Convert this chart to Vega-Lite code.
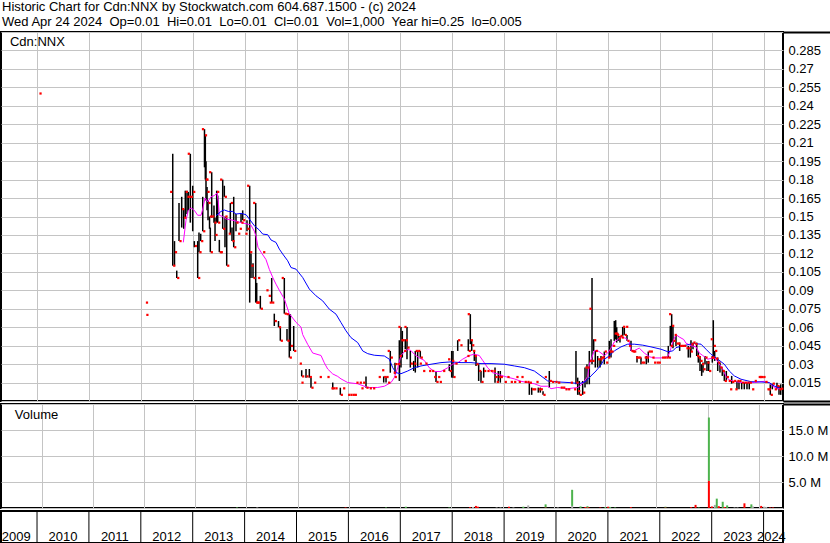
{
"$schema": "https://vega.github.io/schema/vega-lite/v6.json",
"padding": 0,
"background": "white",
"config": {
  "font": "Liberation Sans",
  "view": {"stroke": "black", "strokeWidth": 2, "fill": "white"},
  "axis": {"labelFont": "Liberation Sans", "labelFontSize": 13, "labelColor": "black", "gridColor": "#c4c4c4", "gridWidth": 1, "gridOpacity": 1, "labelOverlap": false}
},
"title": {"text": ["Historic Chart for Cdn:NNX by Stockwatch.com 604.687.1500 - (c) 2024", "Wed Apr 24 2024\u00a0 Op=0.01\u00a0 Hi=0.01\u00a0 Lo=0.01\u00a0 Cl=0.01\u00a0 Vol=1,000\u00a0 Year hi=0.25\u00a0 lo=0.005"], "anchor": "start", "frame": "bounds", "font": "Liberation Sans", "fontSize": 13, "fontWeight": "normal", "color": "black", "lineHeight": 15.5, "baseline": "top", "offset": -4, "dx": 2},
"spacing": 3,
"bounds": "flush",
"resolve": {"scale": {"color": "independent", "x": "independent", "y": "independent"}},
"vconcat": [
  {
    "width": 782, "height": 369,
    "encoding": {
      "x": {"field": "t", "type": "quantitative", "scale": {"domain": [2009.306, 2024.374], "nice": false, "zero": false},
            "axis": {"values": [2010,2011,2012,2013,2014,2015,2016,2017,2018,2019,2020,2021,2022,2023,2024], "tickCount": 40, "grid": true, "labels": false, "ticks": false, "domain": false, "title": null, "minExtent": 0, "maxExtent": 0}}
    },
    "layer": [
      {"data": {"name": "bars"}, "mark": {"type": "rule", "color": "black", "strokeWidth": 1.5},
       "encoding": {
         "y": {"field": "l", "type": "quantitative", "scale": {"domain": [0, 0.3], "nice": false, "zero": false},
               "axis": {"orient": "right", "values": [0,0.015,0.03,0.045,0.06,0.075,0.09,0.105,0.12,0.135,0.15,0.165,0.18,0.195,0.21,0.225,0.24,0.255,0.27,0.285,0.3], "tickCount": 40, "grid": true, "gridColor": "#c4c4c4", "gridOpacity": 1, "labelOverlap": false, "labelSeparation": 0, "domain": false, "tickSize": 48, "tickWidth": 2, "tickColor": "black",
                        "tickOpacity": {"condition": {"test": "datum.value < 0.001 || datum.value > 0.299", "value": 1}, "value": 0},
                        "labelExpr": "datum.value < 0.001 || datum.value > 0.299 ? '' : format(datum.value, '~g')",
                        "labelPadding": -43, "title": null}},
         "y2": {"field": "h"}
       }},
      {"data": {"name": "ma"}, "mark": {"type": "line", "strokeWidth": 1},
       "encoding": {
         "y": {"field": "p", "type": "quantitative"},
         "color": {"field": "s", "type": "nominal", "scale": {"domain": ["short", "long"], "range": ["#ff00ff", "#0000ff"]}, "legend": null}
       }},
      {"data": {"name": "bars"}, "mark": {"type": "point", "shape": "square", "filled": true, "size": 5, "color": "#ff0000", "opacity": 1, "xOffset": -1.5},
       "encoding": {"y": {"field": "o", "type": "quantitative"}}},
      {"data": {"name": "bars"}, "mark": {"type": "point", "shape": "square", "filled": true, "size": 5, "color": "#ff0000", "opacity": 1, "xOffset": 1.5},
       "encoding": {"y": {"field": "c", "type": "quantitative"}}},
      {"data": {"values": [{"label": "Cdn:NNX", "t": 2009.479, "p": 0.2886}]}, "mark": {"type": "text", "align": "left", "baseline": "alphabetic", "fontSize": 13, "font": "Liberation Sans", "color": "black"},
       "encoding": {"y": {"field": "p", "type": "quantitative"}, "text": {"field": "label", "type": "nominal"}}}
    ]
  },
  {
    "width": 782, "height": 104,
    "encoding": {
      "x": {"field": "t", "type": "quantitative", "scale": {"domain": [2009.306, 2024.374], "nice": false, "zero": false},
            "axis": {"values": [2010,2011,2012,2013,2014,2015,2016,2017,2018,2019,2020,2021,2022,2023,2024], "tickCount": 40, "grid": true, "labels": false, "ticks": false, "domain": false, "title": null, "minExtent": 0, "maxExtent": 0}}
    },
    "layer": [
      {"data": {"name": "vol"},
       "mark": {"type": "bar", "size": 2},
       "encoding": {
         "y": {"field": "v", "type": "quantitative", "stack": "zero", "scale": {"domain": [0, 20000000], "nice": false},
               "axis": {"orient": "right", "values": [0, 5000000, 10000000, 15000000, 20000000], "tickCount": 20, "grid": true, "gridColor": "#c4c4c4", "gridOpacity": 1, "labelOverlap": false, "labelSeparation": 0, "domain": false, "tickSize": 48, "tickWidth": 2, "tickColor": "black",
                        "tickOpacity": {"condition": {"test": "datum.value > 19000000", "value": 1}, "value": 0},
                        "labelPadding": -43, "labelExpr": "datum.value < 1 || datum.value > 19000000 ? '' : format(datum.value / 1000000, '.1f') + ' M'", "title": null}},
         "color": {"field": "k", "type": "nominal", "scale": {"domain": ["down", "up", "flat"], "range": ["#ff0000", "#4db34d", "#a8a8a8"]}, "legend": null},
         "order": {"field": "n", "type": "quantitative"}
       }},
      {"data": {"values": [{"label": "Volume", "t": 2009.479, "v": 17100000}]}, "mark": {"type": "text", "align": "left", "baseline": "alphabetic", "fontSize": 13, "font": "Liberation Sans", "color": "black"},
       "encoding": {"y": {"field": "v", "type": "quantitative"}, "text": {"field": "label", "type": "nominal"}}}
    ]
  },
  {
    "width": 782, "height": 32,
    "layer": [
      {"data": {"name": "yearlines"}, "mark": {"type": "rule", "color": "black", "strokeWidth": 1},
       "encoding": {"x": {"field": "y0", "type": "quantitative", "scale": {"domain": [2009.306, 2024.374], "nice": false, "zero": false}, "axis": null}}},
      {"data": {"name": "yearlabels"}, "mark": {"type": "text", "fontSize": 13, "font": "Liberation Sans", "color": "black", "baseline": "alphabetic", "align": "center"},
       "encoding": {
         "x": {"field": "m", "type": "quantitative", "axis": null},
         "y": {"field": "ty", "type": "quantitative", "scale": {"domain": [0, 1]}, "axis": null},
         "text": {"field": "year", "type": "nominal"}
       }}
    ]
  }
],
"datasets": {
"bars": [
{"t":2010.039,"c":0.25},
{"t":2012.090,"c":0.08},
{"t":2012.098,"c":0.07},
{"t":2012.615,"h":0.201,"l":0.110,"o":0.170,"c":0.110},
{"t":2012.649,"h":0.130,"l":0.110,"c":0.121},
{"t":2012.692,"h":0.106,"l":0.100,"c":0.100},
{"t":2012.736,"h":0.161,"l":0.130,"c":0.130},
{"t":2012.788,"h":0.166,"l":0.141,"c":0.156},
{"t":2012.827,"h":0.156,"l":0.140,"c":0.149},
{"t":2012.857,"h":0.171,"l":0.149,"c":0.170},
{"t":2012.890,"h":0.171,"l":0.152,"c":0.166},
{"t":2012.915,"h":0.170,"l":0.155,"c":0.166},
{"t":2012.954,"h":0.201,"l":0.145,"o":0.201,"c":0.166},
{"t":2013.000,"h":0.175,"l":0.138,"c":0.170},
{"t":2013.031,"h":0.130,"l":0.125,"c":0.126},
{"t":2013.096,"h":0.130,"l":0.100,"c":0.100},
{"t":2013.121,"h":0.137,"l":0.121,"c":0.121},
{"t":2013.154,"h":0.136,"l":0.130,"c":0.130},
{"t":2013.193,"h":0.166,"l":0.138,"c":0.138},
{"t":2013.227,"h":0.221,"l":0.190,"o":0.221,"c":0.216},
{"t":2013.243,"h":0.216,"l":0.180,"c":0.180},
{"t":2013.256,"h":0.195,"l":0.163,"c":0.180},
{"t":2013.276,"h":0.174,"l":0.155,"c":0.170},
{"t":2013.295,"h":0.163,"l":0.147,"c":0.161},
{"t":2013.324,"h":0.150,"l":0.140,"c":0.150},
{"t":2013.339,"h":0.141,"l":0.121,"c":0.121},
{"t":2013.366,"h":0.186,"l":0.149,"o":0.186,"c":0.150},
{"t":2013.410,"h":0.159,"l":0.145,"c":0.145},
{"t":2013.430,"h":0.149,"l":0.130,"c":0.135},
{"t":2013.462,"h":0.171,"l":0.145,"c":0.170},
{"t":2013.482,"h":0.167,"l":0.145,"c":0.145},
{"t":2013.513,"h":0.131,"l":0.121,"c":0.121},
{"t":2013.532,"c":0.121},
{"t":2013.578,"h":0.180,"l":0.140,"o":0.180,"c":0.140},
{"t":2013.609,"h":0.175,"l":0.166,"c":0.166},
{"t":2013.622,"h":0.150,"l":0.125,"c":0.150},
{"t":2013.655,"h":0.149,"l":0.110,"c":0.110},
{"t":2013.686,"c":0.136},
{"t":2013.725,"h":0.161,"l":0.136,"c":0.161},
{"t":2013.757,"h":0.141,"l":0.130,"c":0.130},
{"t":2013.790,"h":0.166,"l":0.125,"c":0.125},
{"t":2013.834,"h":0.152,"l":0.138,"c":0.145},
{"t":2013.867,"c":0.136},
{"t":2013.898,"c":0.140},
{"t":2013.931,"h":0.152,"l":0.145,"c":0.145},
{"t":2013.963,"h":0.155,"l":0.147,"c":0.147},
{"t":2014.008,"c":0.136},
{"t":2014.046,"h":0.147,"l":0.138,"c":0.140},
{"t":2014.098,"h":0.175,"l":0.080,"o":0.175,"c":0.121},
{"t":2014.123,"h":0.120,"l":0.100,"c":0.110},
{"t":2014.162,"h":0.112,"l":0.100,"c":0.100},
{"t":2014.214,"h":0.161,"l":0.080,"o":0.161,"c":0.080},
{"t":2014.233,"h":0.096,"l":0.080,"c":0.080},
{"t":2014.252,"c":0.100},
{"t":2014.303,"h":0.0855,"l":0.075,"o":0.080,"c":0.075},
{"t":2014.349,"c":0.121},
{"t":2014.412,"c":0.090},
{"t":2014.457,"c":0.0855},
{"t":2014.476,"c":0.080},
{"t":2014.522,"h":0.100,"l":0.080,"c":0.080},
{"t":2014.572,"h":0.071,"l":0.061,"c":0.065},
{"t":2014.653,"h":0.065,"l":0.060,"c":0.060},
{"t":2014.688,"h":0.060,"l":0.049,"c":0.049},
{"t":2014.765,"h":0.100,"l":0.071,"o":0.100,"c":0.071},
{"t":2014.817,"h":0.0586,"l":0.049,"c":0.049},
{"t":2014.861,"h":0.0706,"l":0.0353,"o":0.0706,"c":0.0353},
{"t":2014.881,"h":0.0706,"l":0.0407,"c":0.0448},
{"t":2014.946,"h":0.061,"l":0.0407,"c":0.0407},
{"t":2015.054,"c":0.0304},
{"t":2015.087,"c":0.0149},
{"t":2015.100,"h":0.025,"l":0.020,"c":0.020},
{"t":2015.183,"h":0.026,"l":0.019,"c":0.020},
{"t":2015.247,"h":0.026,"l":0.019,"c":0.0195},
{"t":2015.279,"h":0.019,"l":0.0108,"c":0.0108},
{"t":2015.331,"c":0.0149},
{"t":2015.439,"c":0.0195},
{"t":2015.588,"c":0.0195},
{"t":2015.665,"c":0.0103},
{"t":2015.698,"h":0.015,"l":0.0095,"c":0.0103},
{"t":2015.742,"c":0.0103},
{"t":2015.844,"h":0.0108,"l":0.005,"c":0.005},
{"t":2015.890,"c":0.0103},
{"t":2015.987,"c":0.005},
{"t":2016.031,"c":0.005},
{"t":2016.075,"c":0.005},
{"t":2016.114,"c":0.005},
{"t":2016.146,"c":0.0149},
{"t":2016.210,"c":0.0149},
{"t":2016.243,"c":0.0103},
{"t":2016.276,"c":0.0149},
{"t":2016.339,"h":0.020,"l":0.0108,"c":0.0108},
{"t":2016.403,"c":0.0103},
{"t":2016.468,"c":0.0103},
{"t":2016.576,"c":0.0195},
{"t":2016.642,"c":0.025},
{"t":2016.680,"h":0.020,"l":0.015,"c":0.0195},
{"t":2016.725,"h":0.020,"l":0.015,"c":0.0195},
{"t":2016.757,"c":0.0149},
{"t":2016.807,"h":0.0407,"l":0.023,"o":0.0407,"c":0.0353},
{"t":2016.865,"c":0.023},
{"t":2016.884,"c":0.0195},
{"t":2016.898,"h":0.031,"l":0.0217,"c":0.030},
{"t":2016.950,"c":0.030},
{"t":2016.981,"h":0.0494,"l":0.0163,"c":0.0366},
{"t":2017.013,"h":0.0602,"l":0.0272,"o":0.0602,"c":0.0494},
{"t":2017.039,"h":0.057,"l":0.0353,"c":0.0494},
{"t":2017.066,"c":0.0407},
{"t":2017.096,"h":0.0502,"l":0.0421,"c":0.0494},
{"t":2017.129,"h":0.0602,"l":0.0339,"o":0.0602,"c":0.0434},
{"t":2017.193,"h":0.0407,"l":0.0272,"c":0.0304},
{"t":2017.258,"h":0.0326,"l":0.0244,"c":0.0304},
{"t":2017.289,"h":0.0407,"l":0.0231,"c":0.0407},
{"t":2017.335,"h":0.0407,"l":0.0272,"c":0.0407},
{"t":2017.366,"c":0.0304},
{"t":2017.385,"h":0.0407,"l":0.0353,"c":0.0353},
{"t":2017.432,"c":0.0244},
{"t":2017.476,"c":0.0304},
{"t":2017.547,"c":0.0244},
{"t":2017.605,"c":0.0244},
{"t":2017.644,"c":0.0195},
{"t":2017.688,"h":0.0244,"l":0.0155,"c":0.0155},
{"t":2017.721,"c":0.0195},
{"t":2017.752,"c":0.0155},
{"t":2017.817,"c":0.0244},
{"t":2017.913,"c":0.0339},
{"t":2017.944,"h":0.0299,"l":0.0244,"c":0.0244},
{"t":2017.990,"h":0.0407,"l":0.019,"c":0.0326},
{"t":2018.015,"h":0.0407,"l":0.019,"c":0.0195},
{"t":2018.054,"c":0.0304},
{"t":2018.106,"h":0.0494,"l":0.0407,"c":0.0494},
{"t":2018.150,"c":0.0453},
{"t":2018.233,"c":0.0326},
{"t":2018.285,"c":0.0366},
{"t":2018.310,"h":0.0502,"l":0.0407,"c":0.0407},
{"t":2018.349,"h":0.0706,"l":0.0462,"o":0.0706,"c":0.0494},
{"t":2018.376,"h":0.0494,"l":0.0407,"c":0.0453},
{"t":2018.395,"c":0.0407},
{"t":2018.426,"h":0.0407,"l":0.0326,"c":0.0366},
{"t":2018.459,"h":0.0366,"l":0.0285,"c":0.0299},
{"t":2018.510,"h":0.0299,"l":0.0163,"c":0.0244},
{"t":2018.555,"h":0.0244,"l":0.0149,"c":0.0155},
{"t":2018.607,"h":0.0272,"l":0.019,"c":0.0244},
{"t":2018.671,"c":0.0244},
{"t":2018.734,"c":0.0244},
{"t":2018.786,"c":0.0244},
{"t":2018.825,"h":0.0272,"l":0.0149,"c":0.0195},
{"t":2018.850,"c":0.0155},
{"t":2018.888,"h":0.0244,"l":0.0149,"c":0.0195},
{"t":2018.927,"h":0.0244,"l":0.0149,"c":0.0195},
{"t":2019.004,"c":0.0155},
{"t":2019.056,"c":0.0195},
{"t":2019.120,"c":0.0155},
{"t":2019.185,"c":0.0155},
{"t":2019.229,"c":0.0195},
{"t":2019.274,"c":0.0155},
{"t":2019.326,"c":0.0195},
{"t":2019.389,"c":0.0155},
{"t":2019.441,"c":0.0155},
{"t":2019.486,"h":0.0149,"l":0.005,"c":0.0149},
{"t":2019.532,"h":0.0109,"l":0.005,"c":0.0095},
{"t":2019.570,"c":0.0095},
{"t":2019.615,"c":0.0155},
{"t":2019.659,"h":0.0109,"l":0.0068,"c":0.0095},
{"t":2019.698,"h":0.0109,"l":0.0068,"c":0.0095},
{"t":2019.750,"h":0.008,"l":0.005,"c":0.005},
{"t":2019.775,"c":0.0195},
{"t":2019.871,"h":0.0244,"l":0.0109,"c":0.0163},
{"t":2019.917,"c":0.0155},
{"t":2019.981,"c":0.0155},
{"t":2020.033,"c":0.0149},
{"t":2020.083,"c":0.0109},
{"t":2020.129,"c":0.0109},
{"t":2020.174,"c":0.0095},
{"t":2020.225,"c":0.0095},
{"t":2020.276,"c":0.0149},
{"t":2020.341,"c":0.0095},
{"t":2020.385,"h":0.0407,"l":0.0136,"c":0.0149},
{"t":2020.418,"h":0.019,"l":0.005,"c":0.0081},
{"t":2020.449,"h":0.0163,"l":0.005,"c":0.005},
{"t":2020.514,"h":0.0163,"l":0.005,"c":0.0068},
{"t":2020.559,"h":0.0272,"l":0.0109,"c":0.0272},
{"t":2020.597,"h":0.0299,"l":0.0136,"c":0.0272},
{"t":2020.642,"h":0.0407,"l":0.0136,"c":0.0326},
{"t":2020.694,"h":0.100,"l":0.0299,"o":0.075,"c":0.0326},
{"t":2020.726,"h":0.0502,"l":0.0407,"c":0.0494},
{"t":2020.757,"h":0.0407,"l":0.0272,"c":0.0407},
{"t":2020.803,"h":0.0366,"l":0.0272,"c":0.0339},
{"t":2020.848,"h":0.0339,"l":0.0272,"c":0.0339},
{"t":2020.867,"h":0.0366,"l":0.0299,"c":0.0353},
{"t":2020.892,"c":0.0353},
{"t":2020.931,"h":0.0402,"l":0.0299,"c":0.0402},
{"t":2020.958,"c":0.0312},
{"t":2020.996,"c":0.0353},
{"t":2021.027,"h":0.0489,"l":0.0353,"c":0.0402},
{"t":2021.060,"h":0.0502,"l":0.0353,"c":0.0402},
{"t":2021.092,"c":0.0448},
{"t":2021.123,"h":0.0651,"l":0.0489,"c":0.0548},
{"t":2021.150,"h":0.0657,"l":0.050,"c":0.0548},
{"t":2021.170,"h":0.060,"l":0.0475,"c":0.0537},
{"t":2021.200,"h":0.0548,"l":0.0489,"c":0.0510},
{"t":2021.233,"h":0.0529,"l":0.0475,"c":0.0529},
{"t":2021.258,"c":0.0516},
{"t":2021.285,"h":0.0603,"l":0.0529,"c":0.0603},
{"t":2021.316,"h":0.0603,"l":0.0537,"c":0.0537},
{"t":2021.343,"c":0.0603},
{"t":2021.368,"h":0.0537,"l":0.0489,"c":0.0489},
{"t":2021.401,"c":0.0448},
{"t":2021.445,"h":0.0489,"l":0.0407,"c":0.0407},
{"t":2021.470,"c":0.0402},
{"t":2021.497,"c":0.0402},
{"t":2021.536,"c":0.0353},
{"t":2021.561,"h":0.0366,"l":0.0312,"c":0.0353},
{"t":2021.593,"c":0.0353},
{"t":2021.638,"h":0.0353,"l":0.0299,"c":0.0312},
{"t":2021.671,"c":0.0312},
{"t":2021.701,"c":0.0353},
{"t":2021.740,"h":0.0366,"l":0.0299,"c":0.0353},
{"t":2021.778,"h":0.0402,"l":0.0312,"c":0.0402},
{"t":2021.817,"c":0.0402},
{"t":2021.850,"c":0.0353},
{"t":2021.882,"c":0.0312},
{"t":2021.932,"c":0.0312},
{"t":2021.971,"c":0.0312},
{"t":2022.036,"c":0.0353},
{"t":2022.075,"c":0.0353},
{"t":2022.119,"c":0.0353},
{"t":2022.164,"h":0.0448,"l":0.0353,"c":0.0353},
{"t":2022.202,"h":0.0611,"l":0.0448,"c":0.0448},
{"t":2022.229,"h":0.0706,"l":0.0475,"o":0.0706,"c":0.0611},
{"t":2022.254,"h":0.0611,"l":0.0429,"c":0.0489},
{"t":2022.279,"c":0.0537},
{"t":2022.312,"h":0.0529,"l":0.0448,"c":0.0467},
{"t":2022.345,"c":0.0467},
{"t":2022.383,"h":0.0475,"l":0.0407,"c":0.0448},
{"t":2022.422,"c":0.0448},
{"t":2022.461,"c":0.0448},
{"t":2022.505,"c":0.0429},
{"t":2022.549,"h":0.0448,"l":0.0353,"c":0.0429},
{"t":2022.588,"h":0.0429,"l":0.0353,"c":0.0402},
{"t":2022.601,"h":0.0494,"l":0.0407,"c":0.0462},
{"t":2022.640,"h":0.0475,"l":0.0421,"c":0.0475},
{"t":2022.678,"c":0.0462},
{"t":2022.711,"h":0.0475,"l":0.0366,"c":0.0366},
{"t":2022.742,"h":0.0407,"l":0.0312,"c":0.0353},
{"t":2022.775,"h":0.0366,"l":0.0244,"c":0.0326},
{"t":2022.807,"h":0.0299,"l":0.0204,"c":0.0299},
{"t":2022.833,"h":0.0312,"l":0.0231,"c":0.0258},
{"t":2022.871,"h":0.0366,"l":0.0299,"c":0.0353},
{"t":2022.909,"h":0.0326,"l":0.0244,"c":0.0312},
{"t":2022.942,"h":0.0326,"l":0.0244,"c":0.0244},
{"t":2022.987,"c":0.0353},
{"t":2023.012,"h":0.0366,"l":0.0312,"c":0.0353},
{"t":2023.031,"h":0.0657,"l":0.0353,"o":0.0502,"c":0.0448},
{"t":2023.058,"h":0.0407,"l":0.0326,"c":0.0407},
{"t":2023.077,"c":0.0345},
{"t":2023.116,"h":0.0353,"l":0.0244,"c":0.0312},
{"t":2023.160,"h":0.0312,"l":0.0231,"c":0.0272},
{"t":2023.204,"h":0.0272,"l":0.0204,"c":0.0244},
{"t":2023.243,"h":0.0244,"l":0.0163,"c":0.0163},
{"t":2023.282,"h":0.0244,"l":0.0163,"c":0.0195},
{"t":2023.320,"c":0.0163},
{"t":2023.347,"c":0.0095},
{"t":2023.385,"h":0.0204,"l":0.0141,"c":0.0155},
{"t":2023.424,"c":0.0163},
{"t":2023.449,"c":0.0095},
{"t":2023.487,"h":0.0163,"l":0.0095,"c":0.0163},
{"t":2023.526,"h":0.0163,"l":0.0095,"c":0.0163},
{"t":2023.578,"h":0.0155,"l":0.0095,"c":0.0149},
{"t":2023.628,"h":0.0155,"l":0.0095,"c":0.0149},
{"t":2023.680,"h":0.0149,"l":0.0095,"c":0.0149},
{"t":2023.724,"h":0.0149,"l":0.0095,"c":0.0149},
{"t":2023.771,"c":0.0095},
{"t":2023.821,"c":0.0163},
{"t":2023.898,"c":0.0195},
{"t":2023.920,"c":0.0195},
{"t":2023.950,"c":0.0195},
{"t":2023.988,"c":0.0195},
{"t":2024.027,"c":0.0155},
{"t":2024.066,"c":0.0095},
{"t":2024.091,"c":0.0095},
{"t":2024.129,"h":0.0136,"l":0.005,"c":0.005},
{"t":2024.168,"h":0.0141,"l":0.0095,"c":0.0141},
{"t":2024.206,"c":0.0095},
{"t":2024.258,"h":0.0149,"l":0.0095,"c":0.0122},
{"t":2024.297,"h":0.0122,"l":0.005,"c":0.0095},
{"t":2024.330,"h":0.0136,"l":0.005,"c":0.01}
],
"ma": [
{"t":2012.819,"s":"short","p":0.129},{"t":2012.871,"s":"short","p":0.147},{"t":2012.915,"s":"short","p":0.155},{"t":2012.967,"s":"short","p":0.157},{"t":2013.031,"s":"short","p":0.155},{"t":2013.096,"s":"short","p":0.151},{"t":2013.160,"s":"short","p":0.151},{"t":2013.193,"s":"short","p":0.156},{"t":2013.237,"s":"short","p":0.165},{"t":2013.289,"s":"short","p":0.162},{"t":2013.353,"s":"short","p":0.166},{"t":2013.416,"s":"short","p":0.167},{"t":2013.468,"s":"short","p":0.169},{"t":2013.493,"s":"short","p":0.162},{"t":2013.513,"s":"short","p":0.151},{"t":2013.578,"s":"short","p":0.150},{"t":2013.642,"s":"short","p":0.148},{"t":2013.771,"s":"short","p":0.147},{"t":2013.931,"s":"short","p":0.145},{"t":2014.046,"s":"short","p":0.144},{"t":2014.123,"s":"short","p":0.143},{"t":2014.187,"s":"short","p":0.138},{"t":2014.220,"s":"short","p":0.134},{"t":2014.258,"s":"short","p":0.125},{"t":2014.316,"s":"short","p":0.121},{"t":2014.412,"s":"short","p":0.115},{"t":2014.476,"s":"short","p":0.107},{"t":2014.547,"s":"short","p":0.100},{"t":2014.605,"s":"short","p":0.095},{"t":2014.669,"s":"short","p":0.090},{"t":2014.765,"s":"short","p":0.083},{"t":2014.861,"s":"short","p":0.071},{"t":2014.990,"s":"short","p":0.064},{"t":2015.087,"s":"short","p":0.060},{"t":2015.119,"s":"short","p":0.054},{"t":2015.216,"s":"short","p":0.046},{"t":2015.312,"s":"short","p":0.039},{"t":2015.472,"s":"short","p":0.037},{"t":2015.536,"s":"short","p":0.031},{"t":2015.601,"s":"short","p":0.026},{"t":2015.698,"s":"short","p":0.022},{"t":2015.794,"s":"short","p":0.020},{"t":2015.857,"s":"short","p":0.018},{"t":2015.987,"s":"short","p":0.015},{"t":2016.179,"s":"short","p":0.014},{"t":2016.372,"s":"short","p":0.011},{"t":2016.565,"s":"short","p":0.011},{"t":2016.692,"s":"short","p":0.012},{"t":2016.821,"s":"short","p":0.015},{"t":2016.884,"s":"short","p":0.019},{"t":2016.950,"s":"short","p":0.027},{"t":2017.013,"s":"short","p":0.037},{"t":2017.077,"s":"short","p":0.040},{"t":2017.143,"s":"short","p":0.042},{"t":2017.206,"s":"short","p":0.041},{"t":2017.270,"s":"short","p":0.038},{"t":2017.366,"s":"short","p":0.035},{"t":2017.462,"s":"short","p":0.033},{"t":2017.559,"s":"short","p":0.027},{"t":2017.655,"s":"short","p":0.024},{"t":2017.784,"s":"short","p":0.024},{"t":2017.913,"s":"short","p":0.027},{"t":2018.010,"s":"short","p":0.030},{"t":2018.106,"s":"short","p":0.031},{"t":2018.202,"s":"short","p":0.034},{"t":2018.329,"s":"short","p":0.037},{"t":2018.426,"s":"short","p":0.038},{"t":2018.522,"s":"short","p":0.037},{"t":2018.588,"s":"short","p":0.033},{"t":2018.684,"s":"short","p":0.027},{"t":2018.780,"s":"short","p":0.023},{"t":2018.877,"s":"short","p":0.022},{"t":2019.004,"s":"short","p":0.020},{"t":2019.197,"s":"short","p":0.018},{"t":2019.326,"s":"short","p":0.016},{"t":2019.455,"s":"short","p":0.015},{"t":2019.582,"s":"short","p":0.014},{"t":2019.711,"s":"short","p":0.012},{"t":2019.840,"s":"short","p":0.012},{"t":2019.904,"s":"short","p":0.010},{"t":2020.033,"s":"short","p":0.011},{"t":2020.225,"s":"short","p":0.010},{"t":2020.418,"s":"short","p":0.011},{"t":2020.482,"s":"short","p":0.013},{"t":2020.545,"s":"short","p":0.016},{"t":2020.611,"s":"short","p":0.020},{"t":2020.642,"s":"short","p":0.030},{"t":2020.688,"s":"short","p":0.035},{"t":2020.738,"s":"short","p":0.041},{"t":2020.803,"s":"short","p":0.041},{"t":2020.867,"s":"short","p":0.039},{"t":2020.931,"s":"short","p":0.037},{"t":2020.996,"s":"short","p":0.039},{"t":2021.060,"s":"short","p":0.043},{"t":2021.123,"s":"short","p":0.048},{"t":2021.189,"s":"short","p":0.050},{"t":2021.252,"s":"short","p":0.052},{"t":2021.349,"s":"short","p":0.051},{"t":2021.412,"s":"short","p":0.048},{"t":2021.445,"s":"short","p":0.041},{"t":2021.509,"s":"short","p":0.041},{"t":2021.605,"s":"short","p":0.043},{"t":2021.701,"s":"short","p":0.039},{"t":2021.798,"s":"short","p":0.036},{"t":2021.894,"s":"short","p":0.035},{"t":2022.023,"s":"short","p":0.035},{"t":2022.152,"s":"short","p":0.036},{"t":2022.202,"s":"short","p":0.041},{"t":2022.249,"s":"short","p":0.048},{"t":2022.312,"s":"short","p":0.054},{"t":2022.376,"s":"short","p":0.052},{"t":2022.461,"s":"short","p":0.050},{"t":2022.505,"s":"short","p":0.047},{"t":2022.601,"s":"short","p":0.045},{"t":2022.698,"s":"short","p":0.044},{"t":2022.761,"s":"short","p":0.039},{"t":2022.827,"s":"short","p":0.037},{"t":2022.923,"s":"short","p":0.034},{"t":2023.019,"s":"short","p":0.035},{"t":2023.083,"s":"short","p":0.034},{"t":2023.146,"s":"short","p":0.030},{"t":2023.212,"s":"short","p":0.026},{"t":2023.276,"s":"short","p":0.020},{"t":2023.339,"s":"short","p":0.017},{"t":2023.436,"s":"short","p":0.016},{"t":2023.565,"s":"short","p":0.015},{"t":2023.821,"s":"short","p":0.015},{"t":2024.013,"s":"short","p":0.016},{"t":2024.110,"s":"short","p":0.015},{"t":2024.175,"s":"short","p":0.012},{"t":2024.272,"s":"short","p":0.010},{"t":2024.335,"s":"short","p":0.010},
{"t":2013.449,"s":"long","p":0.1506},{"t":2013.545,"s":"long","p":0.1541},{"t":2013.609,"s":"long","p":0.1553},{"t":2013.686,"s":"long","p":0.1541},{"t":2013.771,"s":"long","p":0.1541},{"t":2013.834,"s":"long","p":0.1520},{"t":2013.931,"s":"long","p":0.1525},{"t":2014.027,"s":"long","p":0.1515},{"t":2014.091,"s":"long","p":0.1480},{"t":2014.187,"s":"long","p":0.1425},{"t":2014.283,"s":"long","p":0.1390},{"t":2014.349,"s":"long","p":0.1357},{"t":2014.445,"s":"long","p":0.1352},{"t":2014.509,"s":"long","p":0.1309},{"t":2014.605,"s":"long","p":0.1289},{"t":2014.669,"s":"long","p":0.1235},{"t":2014.734,"s":"long","p":0.1195},{"t":2014.830,"s":"long","p":0.1140},{"t":2014.894,"s":"long","p":0.1085},{"t":2014.990,"s":"long","p":0.1072},{"t":2015.119,"s":"long","p":0.1004},{"t":2015.247,"s":"long","p":0.0910},{"t":2015.376,"s":"long","p":0.0855},{"t":2015.505,"s":"long","p":0.0814},{"t":2015.632,"s":"long","p":0.0747},{"t":2015.761,"s":"long","p":0.0706},{"t":2015.857,"s":"long","p":0.0638},{"t":2015.954,"s":"long","p":0.0570},{"t":2016.050,"s":"long","p":0.0515},{"t":2016.179,"s":"long","p":0.0475},{"t":2016.276,"s":"long","p":0.0407},{"t":2016.372,"s":"long","p":0.0385},{"t":2016.499,"s":"long","p":0.0372},{"t":2016.692,"s":"long","p":0.0366},{"t":2016.788,"s":"long","p":0.0340},{"t":2016.854,"s":"long","p":0.0271},{"t":2016.917,"s":"long","p":0.0230},{"t":2017.013,"s":"long","p":0.0222},{"t":2017.143,"s":"long","p":0.0244},{"t":2017.270,"s":"long","p":0.0271},{"t":2017.399,"s":"long","p":0.0285},{"t":2017.592,"s":"long","p":0.0299},{"t":2017.784,"s":"long","p":0.0312},{"t":2017.977,"s":"long","p":0.0318},{"t":2018.170,"s":"long","p":0.0312},{"t":2018.362,"s":"long","p":0.0312},{"t":2018.555,"s":"long","p":0.0304},{"t":2018.748,"s":"long","p":0.0304},{"t":2019.004,"s":"long","p":0.0299},{"t":2019.197,"s":"long","p":0.0285},{"t":2019.389,"s":"long","p":0.0271},{"t":2019.582,"s":"long","p":0.0244},{"t":2019.711,"s":"long","p":0.0204},{"t":2019.840,"s":"long","p":0.0163},{"t":2020.033,"s":"long","p":0.0155},{"t":2020.289,"s":"long","p":0.0149},{"t":2020.449,"s":"long","p":0.0141},{"t":2020.578,"s":"long","p":0.0159},{"t":2020.674,"s":"long","p":0.0204},{"t":2020.771,"s":"long","p":0.0244},{"t":2020.867,"s":"long","p":0.0293},{"t":2020.931,"s":"long","p":0.0340},{"t":2021.027,"s":"long","p":0.0366},{"t":2021.123,"s":"long","p":0.0407},{"t":2021.252,"s":"long","p":0.0440},{"t":2021.382,"s":"long","p":0.0462},{"t":2021.509,"s":"long","p":0.0462},{"t":2021.671,"s":"long","p":0.0454},{"t":2021.830,"s":"long","p":0.0440},{"t":2022.023,"s":"long","p":0.0421},{"t":2022.152,"s":"long","p":0.0401},{"t":2022.249,"s":"long","p":0.0407},{"t":2022.312,"s":"long","p":0.0434},{"t":2022.441,"s":"long","p":0.0448},{"t":2022.568,"s":"long","p":0.0460},{"t":2022.665,"s":"long","p":0.0467},{"t":2022.794,"s":"long","p":0.0462},{"t":2022.890,"s":"long","p":0.0421},{"t":2022.987,"s":"long","p":0.0380},{"t":2023.116,"s":"long","p":0.0340},{"t":2023.243,"s":"long","p":0.0299},{"t":2023.339,"s":"long","p":0.0244},{"t":2023.436,"s":"long","p":0.0204},{"t":2023.565,"s":"long","p":0.0177},{"t":2023.757,"s":"long","p":0.0157},{"t":2023.950,"s":"long","p":0.0155},{"t":2024.110,"s":"long","p":0.0149},{"t":2024.206,"s":"long","p":0.0122},{"t":2024.303,"s":"long","p":0.0108}
],
"vol": [
{"t":2013.815,"v":100000,"k":"up","n":1},
{"t":2014.210,"v":100000,"k":"flat","n":1},
{"t":2015.934,"v":100000,"k":"down","n":1},
{"t":2016.724,"v":100000,"k":"up","n":1},
{"t":2017.110,"v":250000,"k":"up","n":1},
{"t":2017.958,"v":100000,"k":"up","n":1},
{"t":2018.362,"v":150000,"k":"down","n":1},
{"t":2018.420,"v":200000,"k":"flat","n":1},
{"t":2018.478,"v":400000,"k":"down","n":1},
{"t":2018.516,"v":250000,"k":"down","n":1},
{"t":2018.882,"v":100000,"k":"flat","n":1},
{"t":2018.959,"v":100000,"k":"flat","n":1},
{"t":2019.123,"v":250000,"k":"down","n":1},
{"t":2019.210,"v":100000,"k":"flat","n":1},
{"t":2019.403,"v":250000,"k":"up","n":1},
{"t":2019.499,"v":500000,"k":"flat","n":1},
{"t":2019.838,"v":100000,"k":"down","n":1},
{"t":2019.838,"v":600000,"k":"up","n":2},
{"t":2020.077,"v":100000,"k":"flat","n":1},
{"t":2020.356,"v":400000,"k":"flat","n":1},
{"t":2020.356,"v":3100000,"k":"up","n":2},
{"t":2020.520,"v":300000,"k":"up","n":1},
{"t":2020.616,"v":200000,"k":"down","n":1},
{"t":2020.655,"v":350000,"k":"up","n":1},
{"t":2020.674,"v":150000,"k":"down","n":1},
{"t":2020.906,"v":100000,"k":"down","n":1},
{"t":2021.002,"v":150000,"k":"up","n":1},
{"t":2021.060,"v":250000,"k":"down","n":1},
{"t":2021.098,"v":200000,"k":"up","n":1},
{"t":2021.195,"v":100000,"k":"up","n":1},
{"t":2021.503,"v":150000,"k":"down","n":1},
{"t":2022.177,"v":100000,"k":"down","n":1},
{"t":2022.177,"v":150000,"k":"up","n":2},
{"t":2022.678,"v":150000,"k":"down","n":1},
{"t":2022.765,"v":600000,"k":"down","n":1},
{"t":2022.827,"v":100000,"k":"up","n":1},
{"t":2023.025,"v":5250000,"k":"down","n":1},
{"t":2023.025,"v":12150000,"k":"up","n":2},
{"t":2023.083,"v":300000,"k":"down","n":1},
{"t":2023.141,"v":600000,"k":"flat","n":1},
{"t":2023.179,"v":1800000,"k":"up","n":1},
{"t":2023.218,"v":350000,"k":"down","n":1},
{"t":2023.295,"v":1200000,"k":"up","n":1},
{"t":2023.333,"v":200000,"k":"down","n":1},
{"t":2023.382,"v":500000,"k":"up","n":1},
{"t":2023.526,"v":100000,"k":"flat","n":1},
{"t":2023.584,"v":100000,"k":"flat","n":1},
{"t":2023.719,"v":900000,"k":"down","n":1},
{"t":2023.854,"v":700000,"k":"up","n":1},
{"t":2023.882,"v":300000,"k":"flat","n":1},
{"t":2024.046,"v":400000,"k":"down","n":1},
{"t":2024.104,"v":250000,"k":"flat","n":1},
{"t":2024.143,"v":200000,"k":"flat","n":1},
{"t":2024.220,"v":100000,"k":"down","n":1},
{"t":2024.277,"v":100000,"k":"down","n":1}
],
"yearlines": [{"y0":2010},{"y0":2011},{"y0":2012},{"y0":2013},{"y0":2014},{"y0":2015},{"y0":2016},{"y0":2017},{"y0":2018},{"y0":2019},{"y0":2020},{"y0":2021},{"y0":2022},{"y0":2023},{"y0":2024}],
"yearlabels": [{"year":"2009","m":2009.6,"ty":0.06},{"year":"2010","m":2010.5,"ty":0.06},{"year":"2011","m":2011.5,"ty":0.06},{"year":"2012","m":2012.5,"ty":0.06},{"year":"2013","m":2013.5,"ty":0.06},{"year":"2014","m":2014.5,"ty":0.06},{"year":"2015","m":2015.5,"ty":0.06},{"year":"2016","m":2016.5,"ty":0.06},{"year":"2017","m":2017.5,"ty":0.06},{"year":"2018","m":2018.5,"ty":0.06},{"year":"2019","m":2019.5,"ty":0.06},{"year":"2020","m":2020.5,"ty":0.06},{"year":"2021","m":2021.5,"ty":0.06},{"year":"2022","m":2022.5,"ty":0.06},{"year":"2023","m":2023.5,"ty":0.06},{"year":"2024","m":2024.15,"ty":0.06}]
}
}
